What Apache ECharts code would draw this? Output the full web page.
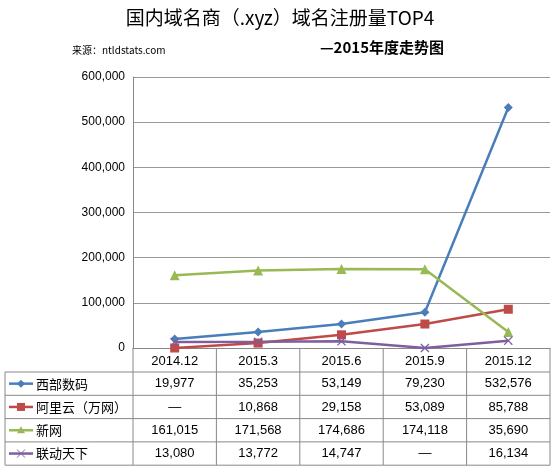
<!DOCTYPE html><html><head><meta charset="utf-8"><script src="https://cdn.jsdelivr.net/npm/echarts@6/dist/echarts.min.js"></script></head><body style="margin:0"><div id="c" style="width:560px;height:470px"></div><script>
const categories=['2014.12','2015.3','2015.6','2015.9','2015.12'];
const names=['西部数码','阿里云（万网）','新网','联动天下'];
const xibu=[19977,35253,53149,79230,532576];
const aliyun=[null,10868,29158,53089,85788];
const xinwang=[161015,171568,174686,174118,35690];
const liandong=[13080,13772,14747,null,16134];
const yTicks=[0,100000,200000,300000,400000,500000,600000];
const colors=['#4a7ebb','#be4b48','#98b954','#7d5fa0'];
const symbols=['diamond','rect','triangle','path://M1,0L5,4L9,0L10,1L6,5L10,9L9,10L5,6L1,10L0,9L4,5L0,1Z'];
const data=[xibu,aliyun,xinwang,liandong];
const L=133,R=550,T=77,B=348,rowH=23.3,cw=(R-L)/categories.length;
const F='"Liberation Sans", Arial, sans-serif';
const g=[];
const tableBottom=B+24+rowH*4;
g.push({type:'line',shape:{x1:L,y1:B,x2:L,y2:tableBottom},style:{stroke:'#888',lineWidth:1}});
for(let i=1;i<=categories.length;i++)g.push({type:'line',shape:{x1:L+cw*i,y1:B,x2:L+cw*i,y2:tableBottom},style:{stroke:'#888',lineWidth:1}});
g.push({type:'line',shape:{x1:5,y1:B+24,x2:5,y2:tableBottom},style:{stroke:'#888',lineWidth:1}});
for(let r=0;r<=4;r++)g.push({type:'line',shape:{x1:5,y1:B+24+rowH*r,x2:R,y2:B+24+rowH*r},style:{stroke:'#888',lineWidth:1}});
categories.forEach((c,i)=>g.push({type:'text',x:L+cw*(i+0.5),y:B+13,style:{text:c,font:'13px '+F,fill:'#000',align:'center',verticalAlign:'middle'}}));
names.forEach((n,r)=>{
 const cy=B+24+rowH*(r+0.5);
 g.push({type:'line',shape:{x1:9,y1:cy,x2:33,y2:cy},style:{stroke:colors[r],lineWidth:2.5}});
 if(r==0)g.push({type:'polygon',shape:{points:[[21,cy-4],[25,cy],[21,cy+4],[17,cy]]},style:{fill:colors[r]}});
 if(r==1)g.push({type:'rect',shape:{x:17,y:cy-4,width:8,height:8},style:{fill:colors[r]}});
 if(r==2)g.push({type:'polygon',shape:{points:[[21,cy-4],[25,cy+3],[17,cy+3]]},style:{fill:colors[r]}});
 if(r==3){g.push({type:'line',shape:{x1:17,y1:cy-4,x2:25,y2:cy+4},style:{stroke:colors[r],lineWidth:1}});g.push({type:'line',shape:{x1:25,y1:cy-4,x2:17,y2:cy+4},style:{stroke:colors[r],lineWidth:1}});}
 g.push({type:'text',x:36,y:cy,style:{text:n,font:'13px "Noto Sans CJK SC"',fill:'#000',verticalAlign:'middle'}});
 data[r].forEach((v,i)=>g.push({type:'text',x:L+cw*(i+0.5),y:cy,style:{text:v==null?'—':v.toLocaleString('en-US'),font:'13px '+F,fill:'#000',align:'center',verticalAlign:'middle'}}));
});
g.push({type:'text',x:280,y:18,style:{text:'国内域名商（.xyz）域名注册量TOP4',font:'19px "Noto Sans CJK SC"',fill:'#000',align:'center',verticalAlign:'middle'}});
g.push({type:'text',x:72,y:50,style:{text:'来源：ntldstats.com',font:'10px "Noto Sans CJK SC"',fill:'#000',verticalAlign:'middle'}});
g.push({type:'text',x:320,y:47,style:{text:'—2015年度走势图',font:'bold 15px "Noto Sans CJK SC"',fill:'#000',verticalAlign:'middle'}});
const chart=echarts.init(document.getElementById('c'));
chart.setOption({
 animation:false,
 grid:{left:L,right:560-R,top:T,bottom:470-B},
 xAxis:{type:'category',data:categories,axisLabel:{show:false},axisTick:{show:false},axisLine:{lineStyle:{color:'#888'}}},
 yAxis:{type:'value',min:0,max:600000,interval:100000,axisLabel:{formatter:v=>v.toLocaleString('en-US'),fontSize:12,color:'#000',fontFamily:F},axisLine:{show:true,lineStyle:{color:'#888'}},splitLine:{lineStyle:{color:'#999'}}},
 series:data.map((d,i)=>({name:names[i],type:'line',data:d.map(v=>v==null?0:v),symbol:symbols[i],symbolSize:i==2?10:9,itemStyle:{color:colors[i]},lineStyle:{color:colors[i],width:2.5}})),
 graphic:g
});
</script></body></html>
